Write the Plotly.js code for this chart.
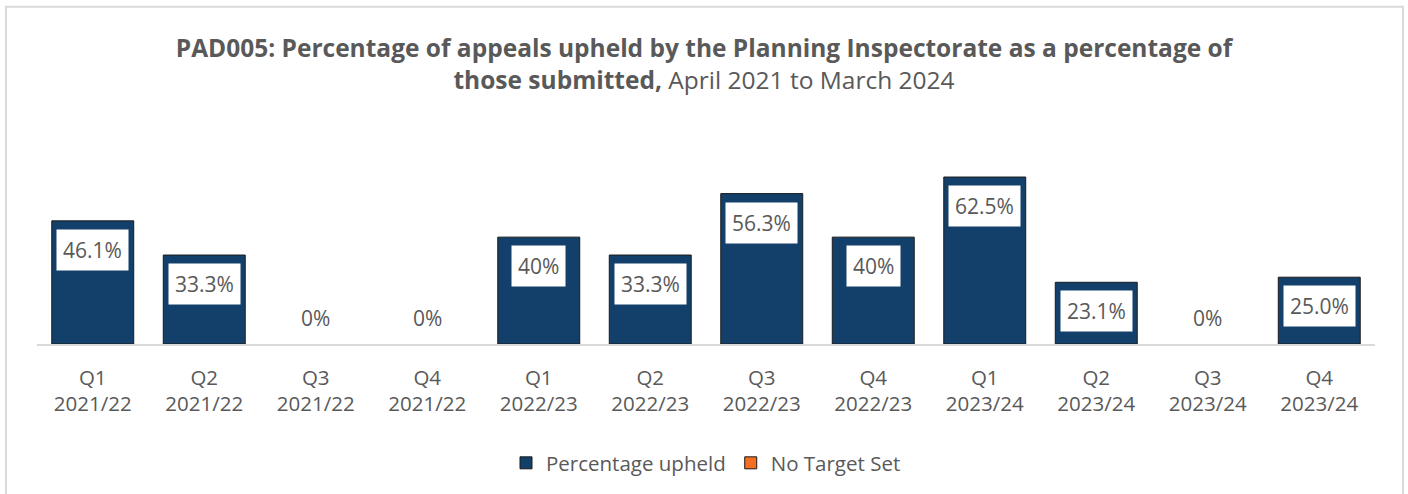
<!DOCTYPE html>
<html>
<head>
<meta charset="utf-8">
<script src="https://cdn.plot.ly/plotly-3.0.1.min.js"></script>
<style>
  html, body { margin: 0; padding: 0; background: #ffffff; }
  #chart { width: 1408px; height: 494px; }
</style>
</head>
<body>
<div id="chart"></div>
<script>
const categories = [
  "Q1<br>2021/22", "Q2<br>2021/22", "Q3<br>2021/22", "Q4<br>2021/22",
  "Q1<br>2022/23", "Q2<br>2022/23", "Q3<br>2022/23", "Q4<br>2022/23",
  "Q1<br>2023/24", "Q2<br>2023/24", "Q3<br>2023/24", "Q4<br>2023/24"
];
const percentageUpheld = [46.1, 33.3, 0, 0, 40, 33.3, 56.3, 40, 62.5, 23.1, 0, 25.0];
const valueLabels = ["46.1%", "33.3%", "0%", "0%", "40%", "33.3%", "56.3%", "40%", "62.5%", "23.1%", "0%", "25.0%"];
const noTargetSet = categories.map(() => null);

const textColor = "#595959";
const fontFamily = "'Open Sans', 'Noto Sans', sans-serif";

const traces = [
  {
    type: "bar",
    name: "Percentage upheld",
    x: categories,
    y: percentageUpheld,
    marker: {
      color: "#13406a",
      line: { color: "#1a1a1a", width: percentageUpheld.map(v => (v > 0 ? 1 : 0)) }
    },
    hoverinfo: "x+y"
  },
  {
    type: "bar",
    name: "No Target Set",
    x: categories,
    y: noTargetSet,
    marker: { color: "#f46f22", line: { color: "#1a1a1a", width: 1 } }
  }
];

const annotations = percentageUpheld.map((v, i) => {
  if (v > 0) {
    return {
      x: categories[i], y: v, xref: "x", yref: "y",
      text: valueLabels[i], showarrow: false,
      yanchor: "top", yshift: -8,
      bgcolor: "#ffffff", borderpad: 6,
      font: { family: fontFamily, size: 21, color: textColor }
    };
  }
  return {
    x: categories[i], y: v, xref: "x", yref: "y",
    text: valueLabels[i], showarrow: false,
    yanchor: "bottom", yshift: 10,
    font: { family: fontFamily, size: 21, color: textColor }
  };
});

const plotW = 1408 - 37 - 33;
const plotH = 494 - 157 - 149;

const layout = {
  width: 1408,
  height: 494,
  margin: { l: 37, r: 33, t: 157, b: 149 },
  paper_bgcolor: "#ffffff",
  plot_bgcolor: "#ffffff",
  barmode: "overlay",
  bargap: 0.265,
  title: {
    text: "<b>PAD005: Percentage of appeals upheld by the Planning Inspectorate as a percentage of<br>those submitted,</b> April 2021 to March 2024",
    font: { family: fontFamily, size: 24.5, color: textColor },
    x: 0.5, xanchor: "center",
    yref: "container", y: (494 - 57) / 494, yanchor: "top"
  },
  xaxis: {
    type: "category",
    showline: true, linecolor: "#d9d9d9", linewidth: 2,
    showgrid: false, zeroline: false, ticks: "",
    ticklabelstandoff: 14,
    tickfont: { family: fontFamily, size: 20.5, color: textColor },
    fixedrange: true
  },
  yaxis: {
    range: [0, 70],
    showticklabels: false, showgrid: false, zeroline: false, showline: false,
    fixedrange: true
  },
  showlegend: true,
  legend: {
    orientation: "h",
    x: 0.5, xanchor: "center",
    y: (345 - 463) / plotH, yanchor: "middle",
    font: { family: fontFamily, size: 20.5, color: textColor },
    itemwidth: 30,
    traceorder: "normal"
  },
  annotations: annotations,
  shapes: [
    {
      type: "rect", xref: "paper", yref: "paper",
      x0: (6 - 37) / plotW, x1: (1403 - 37) / plotW,
      y0: (345 - 520) / plotH, y1: (345 - 6) / plotH,
      line: { color: "#d9d9d9", width: 2 },
      fillcolor: "rgba(0,0,0,0)"
    }
  ]
};

Plotly.newPlot("chart", traces, layout, { displayModeBar: false, staticPlot: true });
</script>
</body>
</html>
